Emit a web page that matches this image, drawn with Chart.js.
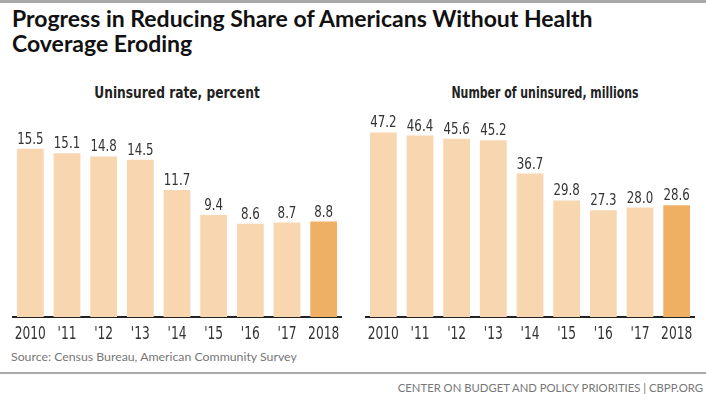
<!DOCTYPE html>
<html lang="en">
<head>
<meta charset="UTF-8">
<title>Progress in Reducing Share of Americans Without Health Coverage Eroding</title>
<script src="https://cdn.jsdelivr.net/npm/chart.js"></script>
<style>
    body {
        margin: 0;
        width: 706px;
        height: 400px;
        background: #fff;
        position: relative;
        overflow: hidden;
        font-family: 'Lato', 'Open Sans', sans-serif;
    }
    .topbar { position: absolute; left: 0; top: 0; width: 706px; height: 3px; background: #a8a8a8; }
    .title {
        position: absolute; left: 12px; top: 6px;
        font-size: 23px; font-weight: bold; line-height: 25px; color: #111;
    }
    .sub {
        position: absolute; top: 83px;
        font-family: 'DejaVu Sans Condensed', sans-serif;
        font-size: 16px; font-weight: bold; color: #222; text-align: center;
        transform-origin: center;
    }
    .panel { position: absolute; top: 100px; width: 330px; height: 245px; }
    .source { position: absolute; left: 11px; top: 349px; font-size: 12.3px; color: #777; }
    .rule { position: absolute; left: 0; top: 372px; width: 706px; height: 2px; background: #aaa; }
    .footer { position: absolute; right: 3px; top: 381px; font-size: 11.3px; color: #777; }
</style>
</head>
<body>
    <div class="topbar"></div>
    <div class="title">Progress in Reducing Share of Americans Without Health<br>Coverage Eroding</div>

    <div class="sub" style="left:12px; width:330px; transform:scaleX(0.85);">Uninsured rate, percent</div>
    <div class="sub" style="left:380px; width:330px; transform:scaleX(0.76);">Number of uninsured, millions</div>

    <div class="panel" style="left:12px;"><canvas id="rateChart"></canvas></div>
    <div class="panel" style="left:365px;"><canvas id="countChart"></canvas></div>

    <div class="source">Source: Census Bureau, American Community Survey</div>
    <div class="rule"></div>
    <div class="footer">CENTER ON BUDGET AND POLICY PRIORITIES | CBPP.ORG</div>

<script>
    // Datos
    const years = ['2010', "'11", "'12", "'13", "'14", "'15", "'16", "'17", '2018'];
    const uninsuredRate = [15.5, 15.1, 14.8, 14.5, 11.7, 9.4, 8.6, 8.7, 8.8];
    const uninsuredMillions = [47.2, 46.4, 45.6, 45.2, 36.7, 29.8, 27.3, 28.0, 28.6];

    const lightColor = '#f8d6b0';
    const darkColor = '#efb064';
    const condensed = "'DejaVu Sans Condensed', sans-serif";

    // Texto estrechado horizontalmente (no hay fuente condensada real)
    function narrowText(ctx, text, x, y, squeeze) {
        ctx.save();
        ctx.translate(x, y);
        ctx.scale(squeeze, 1);
        ctx.fillText(text, 0, 0);
        ctx.restore();
    }

    // Valores encima de las barras y etiquetas del eje x
    const barText = {
        id: 'barText',
        afterDraw(chart) {
            const ctx = chart.ctx;
            const meta = chart.getDatasetMeta(0);
            const values = chart.data.datasets[0].data;
            const xScale = chart.scales.x;
            ctx.save();
            ctx.fillStyle = '#333';
            ctx.textAlign = 'center';

            ctx.font = '16px ' + condensed;
            ctx.textBaseline = 'alphabetic';
            meta.data.forEach((bar, i) => {
                narrowText(ctx, values[i].toFixed(1), bar.x, bar.y - 5, 0.82);
            });

            ctx.font = '17px ' + condensed;
            ctx.textBaseline = 'alphabetic';
            chart.data.labels.forEach((label, i) => {
                narrowText(ctx, label, xScale.getPixelForTick(i), chart.chartArea.bottom + 21.5, 0.8);
            });
            ctx.restore();
        }
    };

    function makeChart(id, values, yMax) {
        const colors = values.map((v, i) => i === values.length - 1 ? darkColor : lightColor);
        return new Chart(document.getElementById(id), {
            type: 'bar',
            data: {
                labels: years,
                datasets: [{
                    data: values,
                    backgroundColor: colors,
                    categoryPercentage: 1.0,
                    barPercentage: 0.73
                }]
            },
            options: {
                responsive: true,
                maintainAspectRatio: false,
                animation: false,
                layout: { padding: 0 },
                plugins: {
                    legend: { display: false },
                    tooltip: { enabled: false }
                },
                scales: {
                    y: { display: false, min: 0, max: yMax },
                    x: {
                        grid: { display: false, drawTicks: false },
                        border: { display: true, color: '#222', width: 2 },
                        ticks: { display: false },
                        afterFit(scale) { scale.height = 28; }
                    }
                }
            },
            plugins: [barText]
        });
    }

    makeChart('rateChart', uninsuredRate, 20);
    makeChart('countChart', uninsuredMillions, 55.5);
</script>
</body>
</html>
